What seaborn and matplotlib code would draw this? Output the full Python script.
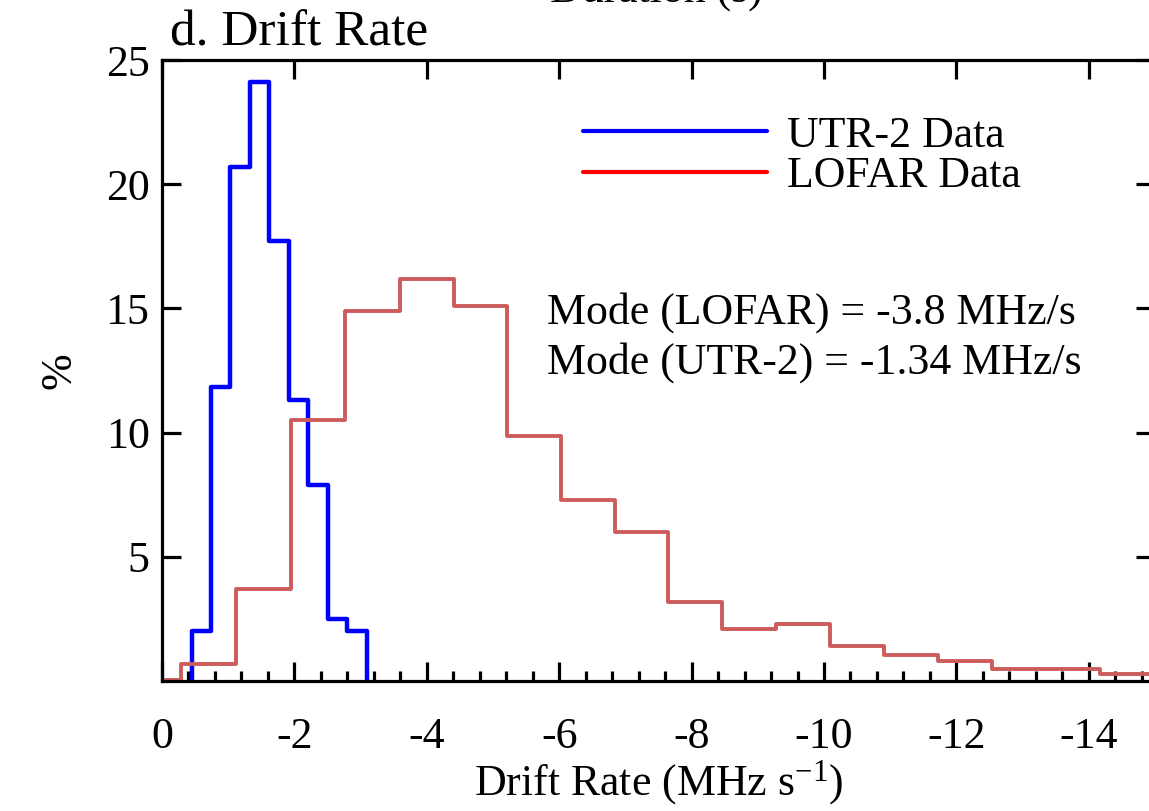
import numpy as np
import pandas as pd
import matplotlib
matplotlib.use("Agg")
import matplotlib.pyplot as plt
from matplotlib.lines import Line2D
import seaborn as sns

# ---- data ----
utr_edges = [0.449, 0.45, 0.74, 1.03, 1.33, 1.62, 1.92, 2.21, 2.51, 2.80, 3.09, 3.091]
utr_pct = [0.0, 2.0, 11.85, 20.7, 24.1, 17.7, 11.3, 7.9, 2.5, 2.0, 0.0]

lofar_edges = [0.0, 0.29, 1.12, 1.95, 2.76, 3.60, 4.41, 5.21, 6.03, 6.84, 7.65,
               8.46, 9.28, 10.09, 10.91, 11.72, 12.54, 13.35, 14.17, 14.98]
lofar_pct = [0.05, 0.7, 3.7, 10.5, 14.9, 16.2, 15.1, 9.85, 7.3, 6.0, 3.2,
             2.1, 2.3, 1.4, 1.05, 0.8, 0.5, 0.5, 0.3]

series_labels = ["UTR-2 Data", "LOFAR Data"]
mode_texts = ["Mode (LOFAR) = -3.8 MHz/s", "Mode (UTR-2) = -1.34 MHz/s"]
x_ticks = [0, -2, -4, -6, -8, -10, -12, -14]
y_ticks = [5, 10, 15, 20, 25]

# ---- style ----
sns.set_style("ticks")
plt.rcParams["font.family"] = ["Liberation Serif", "DejaVu Serif"]
plt.rcParams["mathtext.fontset"] = "custom"
plt.rcParams["mathtext.rm"] = "Liberation Serif"
plt.rcParams["mathtext.it"] = "Liberation Serif:italic"
plt.rcParams["axes.unicode_minus"] = False
plt.rcParams["text.color"] = "black"
plt.rcParams["axes.labelcolor"] = "black"
plt.rcParams["axes.edgecolor"] = "black"
plt.rcParams["xtick.color"] = "black"
plt.rcParams["ytick.color"] = "black"

FS = 31.6
W, H = 1149, 811
fig = plt.figure(figsize=(W / 100, H / 100), dpi=100)
ax = fig.add_axes([162 / W, (H - 681) / H, (1155 - 162) / W, (681 - 60) / H])


def to_frame(edges, pct):
    e = -np.asarray(edges, dtype=float)
    p = np.asarray(pct, dtype=float)
    centers = (e[:-1] + e[1:]) / 2
    return pd.DataFrame({"x": centers, "w": p}), sorted(float(v) for v in e)


utr_df, utr_bins = to_frame(utr_edges, utr_pct)
lof_df, lof_bins = to_frame(lofar_edges, lofar_pct)

sns.histplot(data=utr_df, x="x", weights="w", bins=utr_bins, element="step",
             fill=False, color="#0000FF", linewidth=3.2, ax=ax)
sns.histplot(data=lof_df, x="x", weights="w", bins=lof_bins, element="step",
             fill=False, color="#CD5C5C", linewidth=2.8, ax=ax)

ax.set_xlim(0, -15)
ax.set_ylim(0, 25)
ax.set_xticks(x_ticks)
ax.set_xticklabels([str(t) for t in x_ticks])
ax.set_xticks(np.arange(0, -15.01, -0.4), minor=True)
ax.set_yticks(y_ticks)
ax.set_yticklabels([str(t) for t in y_ticks])

for s in ax.spines.values():
    s.set_linewidth(2.3)
    s.set_color("black")
    s.set_visible(True)
ax.tick_params(axis="both", which="major", direction="in", length=14, width=2.3,
               labelsize=FS, top=True, right=True, color="black")
ax.tick_params(axis="x", which="major", pad=26)
ax.tick_params(axis="y", which="major", pad=9)
ax.tick_params(axis="x", which="minor", direction="in", length=7, width=2.3,
               top=False, bottom=True)

ax.set_xlabel("Drift Rate (MHz s$^{\\mathregular{-1}}$)", fontsize=FS, labelpad=1)
ax.set_ylabel("%", fontsize=FS, labelpad=19)

ax.text(0.008, 1 + 14 / 621, "d. Drift Rate", transform=ax.transAxes,
        fontsize=37, ha="left", va="baseline")
fig.text(656 / W, 1 - 12 / H, "Duration (s)", fontsize=FS, ha="center", va="bottom")

handles = [Line2D([], [], color="#0000FF", lw=3.0),
           Line2D([], [], color="#FF0000", lw=3.0)]
ax.legend(handles, series_labels, loc="center left",
          bbox_to_anchor=((583 - 162) / 993, (681 - 156) / 621),
          frameon=False, fontsize=FS, handlelength=4.2, handletextpad=0.45,
          labelspacing=0.02, borderpad=0, borderaxespad=0)

ax.text((547 - 162) / 993, (681 - 324) / 621, mode_texts[0], transform=ax.transAxes,
        fontsize=FS, ha="left", va="baseline")
ax.text((547 - 162) / 993, (681 - 374) / 621, mode_texts[1], transform=ax.transAxes,
        fontsize=FS, ha="left", va="baseline")

fig.savefig("out.png", dpi=100)
